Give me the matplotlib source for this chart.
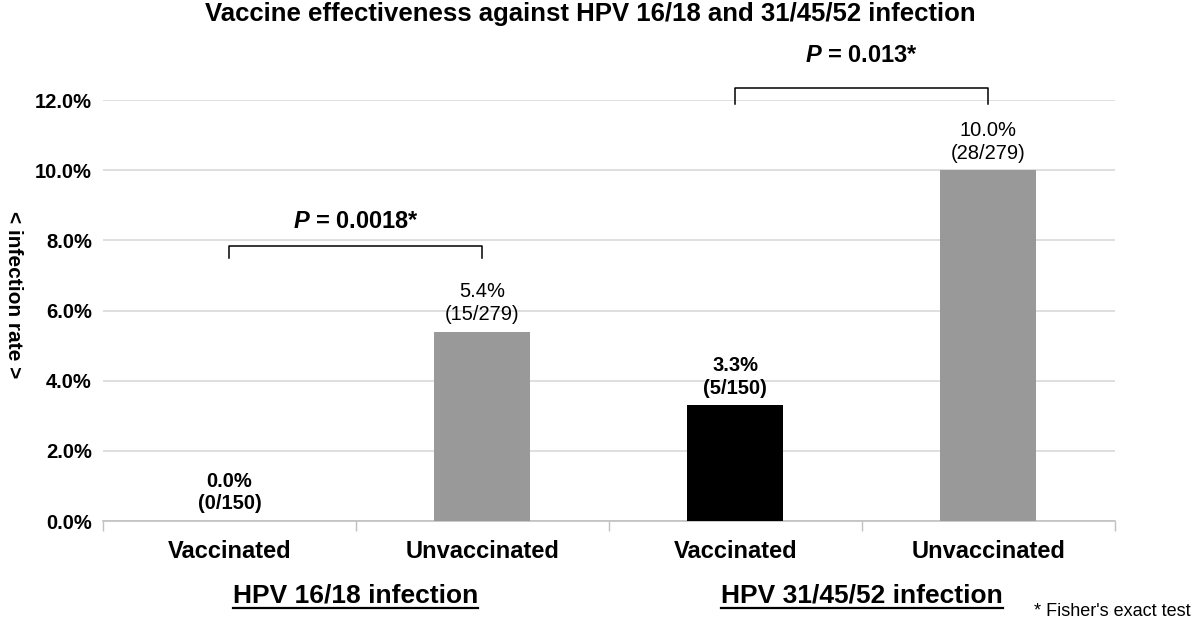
import matplotlib
matplotlib.use("Agg")
import matplotlib.pyplot as plt
from matplotlib.lines import Line2D
import numpy as np

plt.rcParams['font.family'] = ['Liberation Sans', 'DejaVu Sans']
plt.rcParams['mathtext.fontset'] = 'custom'
plt.rcParams['mathtext.it'] = 'Liberation Sans:italic:bold'
plt.rcParams['mathtext.rm'] = 'Liberation Sans:bold'

# ---- data ----
categories = ["Vaccinated", "Unvaccinated", "Vaccinated", "Unvaccinated"]
rates = [0.0, 5.4, 3.3, 10.0]
counts = ["(0/150)", "(15/279)", "(5/150)", "(28/279)"]
groups = ["HPV 16/18 infection", "HPV 31/45/52 infection"]
p_values = ["0.0018*", "0.013*"]
yticks = [0, 2, 4, 6, 8, 10, 12]
bar_colors = ["#000000", "#999999", "#000000", "#999999"]
label_weights = ["bold", "normal", "bold", "normal"]

fig = plt.figure(figsize=(12, 6.3), dpi=100)
ax = fig.add_axes([0.0858, 0.173, 0.843, 0.668])

x = np.arange(len(categories))
ax.bar(x, rates, width=0.38, color=bar_colors, zorder=3)
ax.set_xlim(-0.5, len(categories) - 0.5)
ax.set_ylim(0, 12)
ax.set_yticks(yticks)
ax.set_yticklabels([f"{v:.1f}%" for v in yticks], fontsize=14.5, fontweight='bold')
ax.tick_params(axis='y', length=0, pad=8)
ax.set_xticks(x)
ax.set_xticklabels(categories, fontsize=17, fontweight='bold')
ax.tick_params(axis='x', length=0, pad=14)
ax.set_xticks(np.arange(-0.5, len(categories), 1.0), minor=True)
ax.tick_params(axis='x', which='minor', length=7, width=1, color='#c0c0c0')
ax.grid(axis='y', color='#d9d9d9', lw=1.2, zorder=0)
for s in ['top', 'right', 'left']:
    ax.spines[s].set_visible(False)
ax.spines['bottom'].set_color('#c0c0c0')
ax.spines['bottom'].set_linewidth(1.2)

for xi, r, c, w in zip(x, rates, counts, label_weights):
    ax.text(xi, r + 0.22, f"{r:.1f}%\n{c}", ha='center', va='bottom',
            fontsize=14.5, fontweight=w, linespacing=1.25)

# significance brackets
brackets = [(0, 1, 7.5, 7.85, 8.2), (2, 3, 11.9, 12.36, 12.95)]
for (a, b, low, top, ty), p in zip(brackets, p_values):
    ax.plot([a, a, b, b], [low, top, top, low], color='black', lw=1.1,
            clip_on=False, zorder=4)
    ax.text((a + b) / 2, ty, r"$\mathit{P}$" + f" = {p}", ha='center', va='bottom',
            fontsize=17, fontweight='bold')

# title
fig.text(0.492, 0.977, "Vaccine effectiveness against HPV 16/18 and 31/45/52 infection",
         ha='center', va='center', fontsize=18.5, fontweight='bold')

# y label
fig.text(0.011, 0.532, "< infection rate >", rotation=270, ha='center', va='center',
         fontsize=15, fontweight='bold')

# group labels (underlined)
group_texts = []
for gi, g in enumerate(groups):
    xc = 2 * gi + 0.5
    t = ax.text(xc, -0.176, g, transform=ax.get_xaxis_transform(), ha='center', va='center',
                fontsize=19, fontweight='bold')
    group_texts.append(t)

fig.text(0.992, 0.03, "* Fisher's exact test", ha='right', va='center', fontsize=13)

fig.canvas.draw()
renderer = fig.canvas.get_renderer()
for t in group_texts:
    bb = t.get_window_extent(renderer)
    y = bb.y0 - 1
    fig.add_artist(Line2D([bb.x0, bb.x1], [y, y], transform=None, color='black', lw=1.6))

fig.savefig("out.png", dpi=100)
